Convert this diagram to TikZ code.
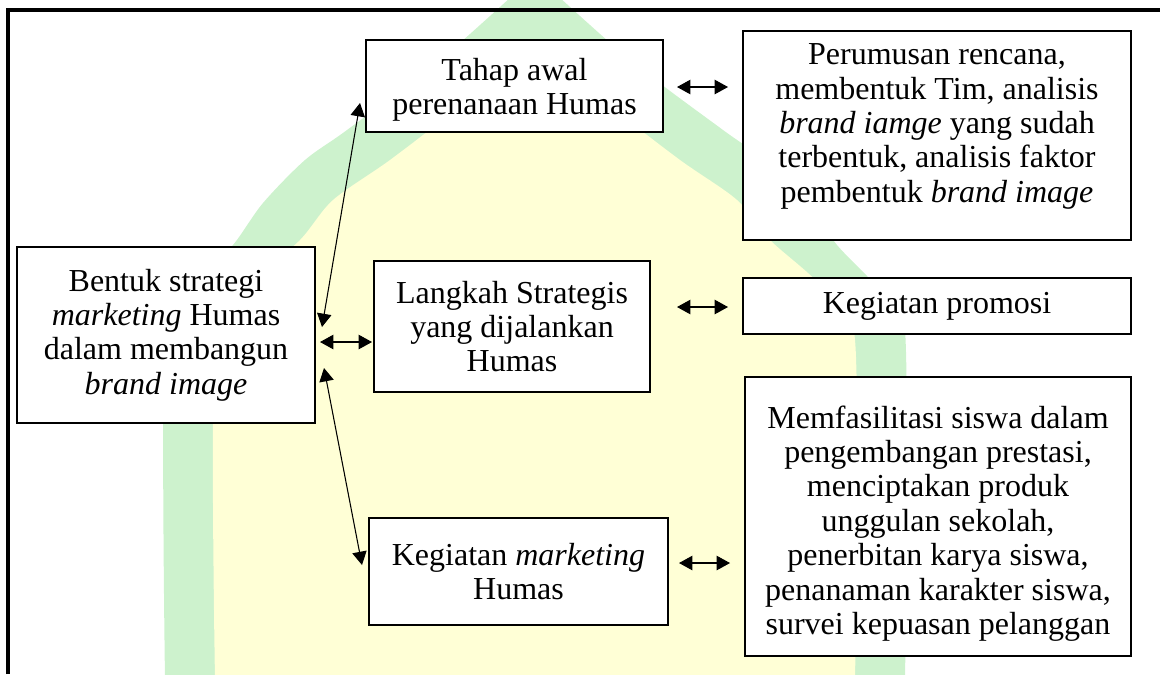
\documentclass[tikz,border=0pt]{standalone}
\usepackage{fontspec}
\setmainfont{Liberation Serif}
\usetikzlibrary{arrows.meta, positioning, calc}
\definecolor{cgreen}{HTML}{CDF2CD}
\definecolor{cyellow}{HTML}{FFFFD6}
\tikzset{
  every picture/.style={line width=0.8pt},
  box/.style={draw=black, fill=white, align=center, inner sep=2pt, outer sep=0pt, font=\fontsize{12}{12.9}\selectfont},
  boxsize/.style 2 args={minimum width=#1*0.375pt, minimum height=#2*0.375pt},
  boxtext/.style={align=center, inner sep=0pt, font=\fontsize{12}{12.9}\selectfont},
  arrow/.style={{Triangle[length=5pt, width=5.4pt]}-{Triangle[length=5pt, width=5.4pt]}, line width=0.4pt},
  frameline/.style={line width=1.5pt},
}

\begin{document}
\begin{tikzpicture}[x=0.375pt, y=-0.375pt]
  \useasboundingbox (0,0) rectangle (1160,674);
  % watermark
  \fill[cgreen] plot[smooth, tension=0.5] coordinates {(165,680) (165,330) (195,285) (233,245) (263,203) (305,160) (347,130) (440,60) (535,-25)}
    -- plot[smooth, tension=0.5] coordinates {(535,-25) (630,60) (723,130) (765,160) (807,203) (837,245) (875,285) (905,330) (905,680)} -- cycle;
  \fill[cyellow] plot[smooth, tension=0.5] coordinates {(215,680) (215,340) (250,285) (300,240) (333,200) (390,160) (455,110) (535,45)}
    -- plot[smooth, tension=0.5] coordinates {(535,45) (615,110) (680,160) (737,200) (770,240) (820,285) (855,340) (855,680)} -- cycle;
  % frame
  \draw[frameline] (8,674) -- (8,10) -- (1160,10);
  % left column
  \node[box, boxsize={298}{176}] (bentuk) at (166,335) {Bentuk strategi\\\textit{marketing} Humas\\dalam membangun\\\textit{brand image}};
  % middle column
  \node[box, boxsize={297}{92}] (tahap) at (514.5,86) {};
  \node[boxtext] (tahaptext) at ($(tahap)+(0,4)$) {Tahap awal\\perenanaan Humas};
  \node[box, boxsize={276}{131}] (langkah) at (512,326.5) {Langkah Strategis\\yang dijalankan\\Humas};
  \node[box, boxsize={299}{107}] (kegiatan) at (518.5,571.5) {Kegiatan \textit{marketing}\\Humas};
  % right column
  \node[box, boxsize={388}{209}] (rumusan) at (937,135.5) {};
  \node[boxtext] (rumusantext) at ($(rumusan)+(0,-9)$) {Perumusan rencana,\\membentuk Tim, analisis\\\textit{brand iamge} yang sudah\\terbentuk, analisis faktor\\pembentuk \textit{brand image}};
  \node[box, boxsize={388}{56}] (promosi) at (937,306) {Kegiatan promosi};
  \node[box, boxsize={386}{279}] (fasilitas) at (938,516.5) {};
  \node[boxtext] (fasilitastext) at ($(fasilitas)+(0,7)$) {Memfasilitasi siswa dalam\\pengembangan prestasi,\\menciptakan produk\\unggulan sekolah,\\penerbitan karya siswa,\\penanaman karakter siswa,\\survei kepuasan pelanggan};
  % arrows
  \draw[arrow] ($(bentuk.east)+(7,-8)$) -- ($(tahap.west)+(-6,17)$);
  \draw[arrow] ($(bentuk.east)+(5,7)$) -- ($(langkah.west)+(-2,15.5)$);
  \draw[arrow] ($(bentuk.east)+(9,33)$) -- ($(kegiatan.west)+(-7,-6.5)$);
  \foreach \l/\r/\d in {tahap/rumusan/1, langkah/promosi/-19.5, kegiatan/fasilitas/-8.5}
    \draw[arrow] ($(\r.west |- \l.east)+(-66,\d)$) -- ($(\r.west |- \l.east)+(-15,\d)$);
\end{tikzpicture}
\end{document}
